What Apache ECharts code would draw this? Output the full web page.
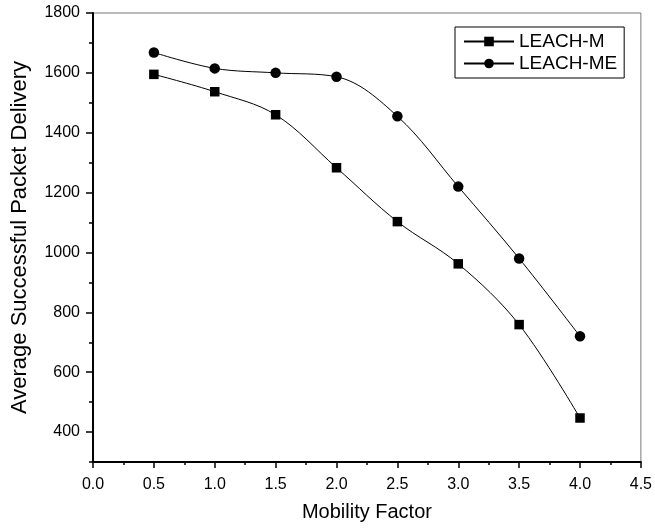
<!DOCTYPE html>
<html><head><meta charset="utf-8">
<script src="https://cdn.jsdelivr.net/npm/echarts@6/dist/echarts.min.js"></script>
<style>html,body{margin:0;padding:0;background:#fff}#c{width:655px;height:529px}</style>
</head><body><div id="c"></div>
<script>
const xValues = [0.5, 1.0, 1.5, 2.0, 2.5, 3.0, 3.5, 4.0];
const leachM = [1595, 1537, 1460, 1283, 1103, 962, 759, 447];
const leachME = [1668, 1615, 1600, 1587, 1455, 1220, 980, 720];
const yMajorTicks = [400, 600, 800, 1000, 1200, 1400, 1600, 1800];
const yMinorTicks = [300, 500, 700, 900, 1100, 1300, 1500, 1700];
const seriesNames = ['LEACH-M', 'LEACH-ME'];

const font = 'Liberation Sans, Arial, sans-serif';
const chart = echarts.init(document.getElementById('c'), null, {renderer: 'canvas'});
const pairs = arr => xValues.map((x, i) => [x, arr[i]]);
chart.setOption({
  animation: false,
  backgroundColor: '#fff',
  grid: {left: 93, top: 13, right: 10, bottom: 67, show: true, borderColor: '#777', borderWidth: 1},
  legend: {
    orient: 'vertical', left: 455, top: 27, width: 168,
    itemWidth: 50, itemHeight: 12, itemGap: 3,
    padding: [5, 7, 5, 8],
    borderColor: '#000', borderWidth: 1,
    textStyle: {fontFamily: font, fontSize: 19, color: '#000'},
    data: seriesNames
  },
  xAxis: {
    type: 'value', min: 0, max: 4.5, interval: 0.5,
    name: 'Mobility Factor', nameLocation: 'middle', nameGap: 40,
    nameTextStyle: {fontFamily: font, fontSize: 20, color: '#000'},
    axisLine: {show: true, lineStyle: {color: '#000', width: 2}},
    axisTick: {show: true, inside: false, length: 6, lineStyle: {color: '#000', width: 1.5}},
    minorTick: {show: true, splitNumber: 2, length: 3, lineStyle: {color: '#000', width: 1.5}},
    splitLine: {show: false},
    axisLabel: {fontFamily: font, fontSize: 16, color: '#000', margin: 15, formatter: v => v.toFixed(1)}
  },
  yAxis: [{
    type: 'value', min: 300, max: 1800,
    name: 'Average Successful Packet Delivery', nameLocation: 'middle', nameGap: 62,
    nameTextStyle: {fontFamily: font, fontSize: 22, color: '#000'},
    axisLine: {show: true, lineStyle: {color: '#000', width: 2}},
    axisTick: {show: true, length: 7, customValues: yMajorTicks, lineStyle: {color: '#000', width: 1.5}},
    splitLine: {show: false},
    axisLabel: {fontFamily: font, fontSize: 16, color: '#000', margin: 13, customValues: yMajorTicks, formatter: v => String(v)}
  }, {
    type: 'value', min: 300, max: 1800, position: 'left',
    axisLine: {show: false},
    axisTick: {show: true, length: 4, customValues: yMinorTicks, lineStyle: {color: '#000', width: 1.5}},
    splitLine: {show: false},
    axisLabel: {show: false}
  }],
  series: [{
    name: seriesNames[0], type: 'line', data: pairs(leachM), smooth: 0.35,
    symbol: 'rect', symbolSize: 9.5,
    lineStyle: {color: '#000', width: 1}, itemStyle: {color: '#000'}
  }, {
    name: seriesNames[1], type: 'line', data: pairs(leachME), smooth: 0.35,
    symbol: 'circle', symbolSize: 10.5,
    lineStyle: {color: '#000', width: 1}, itemStyle: {color: '#000'}
  }]
});
</script></body></html>
